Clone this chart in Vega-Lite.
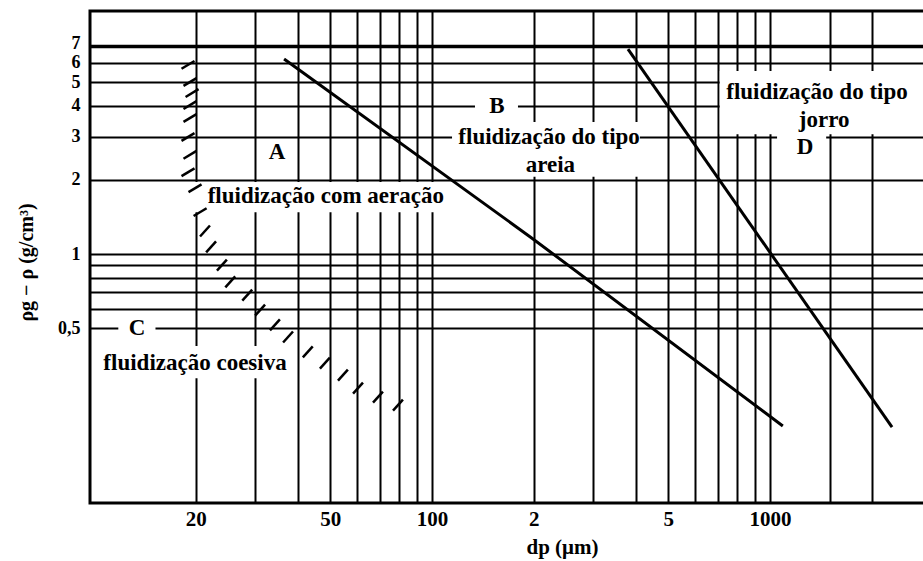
{
  "$schema": "https://vega.github.io/schema/vega-lite/v6.json",
  "width": 835,
  "height": 492,
  "autosize": "none",
  "padding": {"left": 90, "top": 11, "right": 0, "bottom": 58},
  "background": "white",
  "config": {
    "view": {"stroke": "black", "strokeWidth": 3},
    "font": "Liberation Serif"
  },
  "datasets": {
    "boxes": [
      {"x": 19.2, "x2": 122, "y": 1.48, "y2": 1.96},
      {"x": 134, "x2": 179.6, "y": 3.57, "y2": 4.43},
      {"x": 114.6, "x2": 412, "y": 2.06, "y2": 3.44},
      {"x": 710, "x2": 2860, "y": 3.07, "y2": 5.54},
      {"x": 1049, "x2": 1466, "y": 2.41, "y2": 3.25},
      {"x": 11.8, "x2": 15.2, "y": 0.452, "y2": 0.555},
      {"x": 10.3, "x2": 38.6, "y": 0.313, "y2": 0.423}
    ],
    "lines": [
      {"seg": "AB", "x": 36.5, "y": 6.2},
      {"seg": "AB", "x": 197.6, "y": 1.16},
      {"seg": "AB", "x": 1091, "y": 0.2},
      {"seg": "BD", "x": 380, "y": 6.8},
      {"seg": "BD", "x": 2296, "y": 0.198}
    ],
    "hatchUpper": [
      {"x": 18.97, "y": 5.87},
      {"x": 19.23, "y": 5.0},
      {"x": 19.5, "y": 4.51},
      {"x": 19.23, "y": 4.03},
      {"x": 19.23, "y": 3.57},
      {"x": 18.97, "y": 2.99},
      {"x": 19.23, "y": 2.53},
      {"x": 18.97, "y": 2.15},
      {"x": 19.9, "y": 1.85},
      {"x": 20.6, "y": 1.48}
    ],
    "hatchLower": [
      {"x": 21.3, "y": 1.24},
      {"x": 22.2, "y": 1.07},
      {"x": 23.9, "y": 0.902},
      {"x": 25.3, "y": 0.77},
      {"x": 28.4, "y": 0.681},
      {"x": 31.0, "y": 0.592},
      {"x": 34.3, "y": 0.515},
      {"x": 37.5, "y": 0.46},
      {"x": 42.9, "y": 0.4},
      {"x": 48.2, "y": 0.36},
      {"x": 54.5, "y": 0.322},
      {"x": 60.4, "y": 0.285},
      {"x": 69.2, "y": 0.262},
      {"x": 79.3, "y": 0.243}
    ],
    "labels": [
      {"text": "A", "x": 34.8, "y": 2.6},
      {"text": "fluidização com aeração", "x": 48.5, "y": 1.72},
      {"text": "B", "x": 155.7, "y": 4.0},
      {"text": "fluidização do tipo", "x": 222, "y": 2.99},
      {"text": "areia", "x": 224, "y": 2.3},
      {"text": "fluidização do tipo", "x": 1377, "y": 4.56},
      {"text": "jorro", "x": 1446, "y": 3.5},
      {"text": "D", "x": 1269, "y": 2.72},
      {"text": "C", "x": 13.4, "y": 0.5},
      {"text": "fluidização coesiva", "x": 19.9, "y": 0.36}
    ]
  },
  "encoding": {
    "x": {
      "field": "x",
      "type": "quantitative",
      "scale": {"type": "log", "domain": [9.73, 2874], "nice": false, "zero": false},
      "axis": {
        "title": "dp (μm)",
        "values": [20, 30, 40, 50, 60, 70, 80, 90, 100, 200, 300, 400, 500, 600, 700, 800, 900, 1000, 1500, 2000],
        "labelExpr": "datum.value == 20 ? '20' : datum.value == 50 ? '50' : datum.value == 100 ? '100' : datum.value == 200 ? '2' : datum.value == 500 ? '5' : datum.value == 1000 ? '1000' : ''",
        "domain": false,
        "ticks": false,
        "grid": true,
        "gridColor": "black",
        "gridOpacity": 1,
        "gridWidth": 2,
        "labelOverlap": false,
        "labelFlush": false,
        "labelPadding": 5,
        "labelFont": "Liberation Serif",
        "labelFontSize": 21,
        "labelFontWeight": "bold",
        "labelColor": "black",
        "titleFont": "Liberation Serif",
        "titleFontSize": 21,
        "titleFontWeight": "bold",
        "titleColor": "black",
        "titleX": 472,
        "titleY": 44,
        "titleAlign": "center",
        "titleBaseline": "middle"
      }
    },
    "y": {
      "field": "y",
      "type": "quantitative",
      "scale": {"type": "log", "domain": [0.0973, 9.72], "nice": false, "zero": false},
      "axis": {
        "title": "ρg − ρ (g/cm³)",
        "values": [0.5, 0.6, 0.7, 0.8, 0.9, 1, 2, 3, 4, 5, 6, 7],
        "labelExpr": "datum.value == 0.5 ? '0,5' : datum.value >= 1 ? format(datum.value, 'd') : ''",
        "domain": false,
        "ticks": false,
        "grid": true,
        "gridColor": "black",
        "gridOpacity": 1,
        "gridWidth": {"condition": {"test": "datum.value == 7", "value": 3.5}, "value": 2},
        "labelOverlap": false,
        "labelFlush": false,
        "labelPadding": 10,
        "labelOffset": {"condition": {"test": "datum.value == 7", "value": -3}, "value": 0},
        "labelFont": "Liberation Serif",
        "labelFontSize": 18,
        "labelFontWeight": "bold",
        "labelColor": "black",
        "titleFont": "Liberation Serif",
        "titleFontSize": 20,
        "titleFontWeight": "bold",
        "titleColor": "black",
        "titleAngle": 270,
        "titleX": -64,
        "titleY": 251,
        "titleAlign": "center",
        "titleBaseline": "middle"
      }
    }
  },
  "layer": [
    {
      "data": {"name": "boxes"},
      "mark": {"type": "rect", "fill": "white", "stroke": null},
      "encoding": {"x2": {"field": "x2"}, "y2": {"field": "y2"}}
    },
    {
      "data": {"name": "lines"},
      "mark": {"type": "line", "color": "black", "strokeWidth": 3},
      "encoding": {"detail": {"field": "seg"}}
    },
    {
      "data": {"name": "hatchUpper"},
      "mark": {"type": "point", "shape": "M-1,0.6L1,-0.6", "size": 169, "filled": false, "stroke": "black", "strokeWidth": 2.5, "opacity": 1}
    },
    {
      "data": {"name": "hatchLower"},
      "mark": {"type": "point", "shape": "M-0.9,1L0.9,-1", "size": 121, "filled": false, "stroke": "black", "strokeWidth": 2.5, "opacity": 1}
    },
    {
      "data": {"name": "labels"},
      "mark": {"type": "text", "font": "Liberation Serif", "fontSize": 23, "fontWeight": "bold", "color": "black", "align": "center", "baseline": "middle"},
      "encoding": {"text": {"field": "text"}}
    }
  ]
}
